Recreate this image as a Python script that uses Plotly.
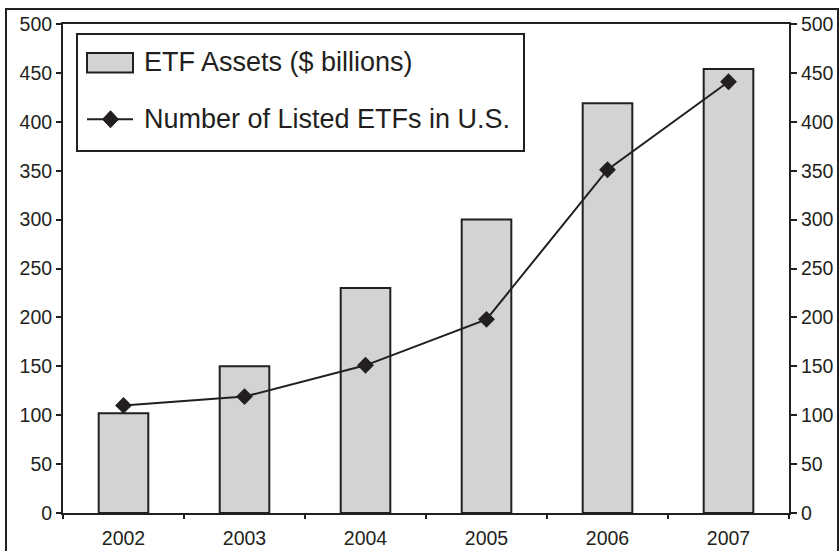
import plotly.graph_objects as go

years = ["2002", "2003", "2004", "2005", "2006", "2007"]
etf_assets = [102, 150, 230, 300, 419, 454]
num_etfs = [110, 119, 151, 198, 351, 441]
legend_labels = ["ETF Assets ($ billions)", "Number of Listed ETFs in U.S."]
y_ticks = list(range(0, 501, 50))

INK = "#231f20"
BAR = "#d1d3d4"
FONT = "Liberation Sans, Arial, Helvetica, sans-serif"

W, H = 840, 551
L, R, T, B = 63, 789, 24, 513


def xp(px):
    return (px - L) / (R - L)


def yp(py):
    return (B - py) / (B - T)


fig = go.Figure()
fig.add_trace(go.Bar(
    x=years, y=etf_assets, name=legend_labels[0],
    marker=dict(color=BAR, line=dict(color=INK, width=2)),
    yaxis="y", xaxis="x",
))
fig.add_trace(go.Scatter(
    x=years, y=num_etfs, name=legend_labels[1], mode="lines+markers",
    line=dict(color=INK, width=2),
    marker=dict(symbol="diamond", size=13, color=INK),
    yaxis="y2", xaxis="x",
))

axis_common = dict(range=[0, 500], tickvals=y_ticks, showgrid=False, zeroline=False,
                   tickcolor=INK, tickwidth=1.5, automargin=False,
                   tickfont=dict(family=FONT, size=19.5, color=INK))
n = len(years)
fig.update_layout(
    width=W, height=H,
    margin=dict(l=L, r=W - R, t=T, b=H - B, pad=0, autoexpand=False),
    paper_bgcolor="white", plot_bgcolor="white",
    showlegend=False, bargap=0.59,
    xaxis=dict(type="category", range=[-0.5, n - 0.5], tickson="boundaries",
               ticks="outside", ticklen=4, tickcolor=INK, tickwidth=1.5,
               ticklabelstandoff=7, automargin=False,
               showline=True, linecolor=INK, linewidth=2, mirror=True,
               showgrid=False, zeroline=False,
               tickfont=dict(family=FONT, size=19.5, color=INK)),
    xaxis2=dict(overlaying="x", anchor="y", side="bottom", range=[-0.5, n - 0.5],
                tickvals=[i + 0.5 for i in range(n - 1)], ticks="inside", ticklen=8,
                tickcolor=INK, tickwidth=1.5, showticklabels=False, showline=False,
                showgrid=False, zeroline=False, automargin=False),
    yaxis=dict(side="left", ticks="outside", ticklen=5, showline=True, linecolor=INK,
               linewidth=2, **axis_common),
    yaxis2=dict(side="right", overlaying="y", anchor="x", ticks="outside", ticklen=6,
                showline=True, linecolor=INK, linewidth=2, **axis_common),
    yaxis3=dict(side="left", overlaying="y", anchor="x", ticks="inside", ticklen=7,
                showticklabels=False, showline=False, **axis_common),
    yaxis4=dict(side="right", overlaying="y", anchor="x", ticks="inside", ticklen=6,
                showticklabels=False, showline=False, **axis_common),
)

shapes = [
    # outer frame
    dict(type="rect", xref="paper", yref="paper", x0=xp(6), x1=xp(838), y0=yp(560), y1=yp(9),
         line=dict(color=INK, width=2), fillcolor="rgba(0,0,0,0)", layer="above"),
    # legend box
    dict(type="rect", xref="paper", yref="paper", x0=xp(77), x1=xp(524), y0=yp(151), y1=yp(34),
         line=dict(color=INK, width=2), fillcolor="white", layer="above"),
    # bar swatch
    dict(type="rect", xref="paper", yref="paper", x0=xp(87), x1=xp(133), y0=yp(72.5), y1=yp(53),
         line=dict(color=INK, width=2), fillcolor=BAR, layer="above"),
    # line swatch
    dict(type="line", xref="paper", yref="paper", x0=xp(87), x1=xp(133), y0=yp(119.3), y1=yp(119.3),
         line=dict(color=INK, width=2), layer="above"),
]
cx, cy, hw, hh = 110.5, 119.3, 8, 8.5
shapes.append(dict(
    type="path", xref="paper", yref="paper", layer="above",
    path=f"M {xp(cx - hw)},{yp(cy)} L {xp(cx)},{yp(cy - hh)} L {xp(cx + hw)},{yp(cy)} L {xp(cx)},{yp(cy + hh)} Z",
    fillcolor=INK, line=dict(color=INK, width=1),
))
fig.update_layout(shapes=shapes)

for label, row_y in zip(legend_labels, [62.5, 119.5]):
    fig.add_annotation(xref="paper", yref="paper", x=xp(142), y=yp(row_y), text=label,
                       showarrow=False, xanchor="left", yanchor="middle",
                       font=dict(family=FONT, size=27, color=INK))

fig.write_html("out.html")
